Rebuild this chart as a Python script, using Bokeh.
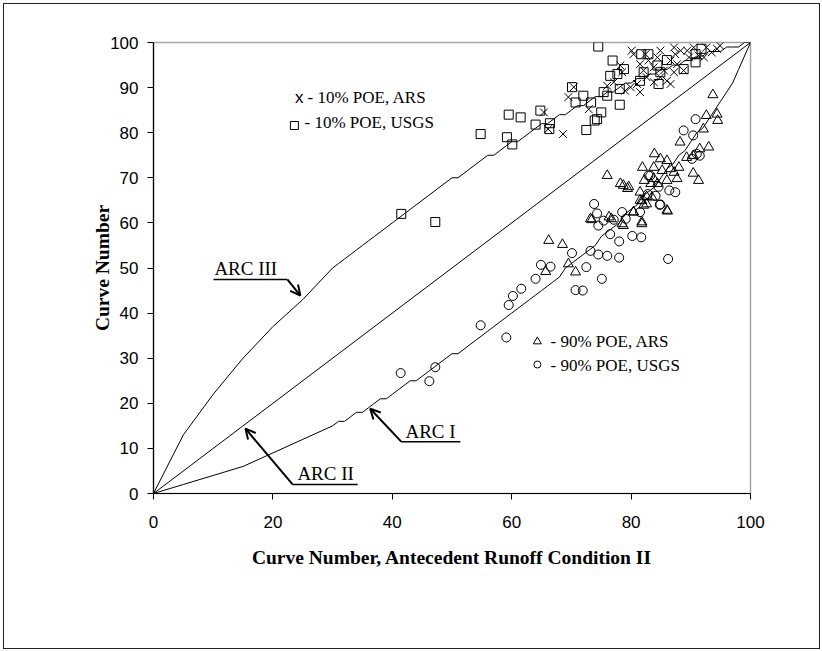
from bokeh.plotting import figure
from bokeh.models import Range1d, Arrow, OpenHead
from bokeh.layouts import column
from bokeh.core.properties import value
from bokeh.embed import file_html
from bokeh.resources import INLINE

# ---- ARC curves (CN II -> CN I / CN III) ----
cn2 = [0, 5, 10, 15, 20, 25, 30, 31, 32, 33, 34, 35, 36, 37, 38, 39, 40, 41, 42, 43, 44, 45,
       46, 47, 48, 49, 50, 51, 52, 53, 54, 55, 56, 57, 58, 59, 60, 61, 62, 63, 64, 65, 66,
       67, 68, 69, 70, 71, 72, 73, 74, 75, 76, 77, 78, 79, 80, 81, 82, 83, 84, 85, 86, 87,
       88, 89, 90, 91, 92, 93, 94, 95, 96, 97, 98, 99, 100]
cn1 = [0, 2, 4, 6, 9, 12, 15, 16, 16, 17, 18, 18, 19, 20, 21, 21, 22, 23, 24, 25, 25, 26,
       27, 28, 29, 30, 31, 31, 32, 33, 34, 35, 36, 37, 38, 39, 40, 41, 42, 43, 44, 45, 46,
       47, 48, 50, 51, 52, 53, 54, 55, 57, 58, 59, 60, 62, 63, 64, 66, 67, 68, 70, 72, 73,
       75, 76, 78, 80, 81, 83, 85, 87, 89, 91, 94, 97, 100]
cn3 = [0, 13, 22, 30, 37, 43, 50, 51, 52, 53, 54, 55, 56, 57, 58, 59, 60, 61, 62, 63, 64, 65,
       66, 67, 68, 69, 70, 70, 71, 72, 73, 74, 75, 75, 76, 77, 78, 78, 79, 80, 81, 82, 82,
       83, 84, 84, 85, 86, 86, 87, 88, 88, 89, 89, 90, 91, 91, 92, 92, 93, 93, 94, 94, 95,
       95, 96, 96, 97, 97, 98, 98, 98, 99, 99, 99, 100, 100]
arc2_x = [0, 100]
arc2_y = [0, 100]

# ---- 10% POE, USGS (squares) ----
usgs10_x = [41.5, 47.2, 54.8, 59.5, 61.5, 59.2, 60.1, 64.0, 64.8, 66.4, 66.3, 70.1, 70.7, 72.0,
            73.3, 72.5, 73.9, 74.3, 75.0, 75.4, 76.5, 76.0, 78.1, 78.1, 77.7, 78.8, 81.5, 81.7,
            82.9, 84.6, 84.9, 86.0, 88.8, 90.8, 90.8, 91.8, 84.4, 82.1, 74.5, 76.9]
usgs10_y = [62.0, 60.2, 79.7, 84.0, 83.4, 79.0, 77.4, 81.8, 84.9, 82.1, 80.8, 90.1, 86.7, 88.2,
            86.7, 80.6, 82.7, 83.0, 84.5, 89.0, 92.6, 88.2, 86.2, 89.7, 93.0, 94.1, 91.5, 97.4,
            97.4, 90.8, 93.4, 96.1, 94.1, 97.4, 95.6, 98.6, 94.9, 93.4, 99.1, 96.0]

# ---- 10% POE, ARS (crosses) ----
ars10_x = [68.6, 66.1, 65.4, 69.5, 70.4, 72.9, 76.0, 77.1, 78.5, 79.0, 79.9, 81.5, 80.4, 81.5,
           82.1, 82.6, 82.9, 83.8, 84.4, 84.9, 85.5, 86.0, 86.6, 87.2, 87.4, 87.2, 87.7, 88.8,
           89.7, 90.5, 91.3, 92.2, 92.6, 93.5, 94.4, 94.9, 88.3, 84.9, 81.0, 78.2, 83.8, 80.1,
           82.4, 86.6, 89.4]
ars10_y = [79.7, 80.8, 84.5, 87.9, 90.1, 85.2, 90.4, 91.2, 93.4, 89.3, 90.1, 89.0, 97.4, 95.2,
           93.8, 92.3, 96.0, 94.5, 96.7, 92.3, 93.8, 91.5, 90.8, 98.9, 97.4, 93.4, 95.2, 93.8,
           96.7, 98.9, 97.1, 96.7, 98.9, 97.8, 98.6, 99.3, 98.2, 98.2, 90.8, 94.9, 91.2, 98.2,
           97.4, 96.0, 98.2]

# ---- 90% POE, ARS (triangles) ----
ars90_x = [93.7, 92.6, 94.4, 94.5, 92.1, 88.2, 93.0, 91.5, 90.4, 89.3, 83.9, 84.9, 86.0, 81.9,
           83.8, 85.2, 86.6, 87.2, 88.0, 76.0, 78.2, 78.7, 79.6, 82.2, 83.3, 84.4, 86.0, 87.7,
           90.4, 91.3, 81.5, 82.6, 81.5, 82.1, 80.4, 81.8, 78.5, 76.3, 73.2, 86.0, 66.2, 68.5,
           83.8, 69.5, 70.7, 65.7, 73.4, 76.7, 78.7, 80.4, 81.8, 81.8, 86.1, 82.6, 83.5, 79.4]
ars90_y = [88.4, 83.8, 84.1, 82.7, 80.8, 77.9, 76.8, 76.4, 74.9, 74.5, 75.3, 74.2, 73.8, 72.3,
           72.3, 71.6, 72.0, 71.2, 72.3, 70.5, 68.7, 68.3, 68.0, 69.4, 68.7, 68.7, 69.4, 69.8,
           71.0, 69.4, 66.8, 65.8, 65.0, 63.9, 62.4, 60.2, 59.8, 61.3, 60.9, 62.8, 56.1, 55.2,
           69.8, 50.9, 49.1, 49.2, 60.7, 60.9, 59.4, 62.4, 59.8, 64.9, 62.6, 64.2, 65.7, 67.6]

# ---- 90% POE, USGS (circles) ----
usgs90_x = [41.4, 46.2, 47.2, 54.8, 59.1, 59.5, 60.2, 61.6, 64.0, 64.9, 66.5, 70.1, 70.7, 71.9,
            72.5, 73.2, 74.5, 76.0, 78.0, 75.1, 76.5, 78.0, 80.2, 81.7, 73.8, 74.3, 74.5, 75.4,
            77.1, 78.5, 79.1, 81.5, 84.8, 86.2, 82.8, 86.4, 83.2, 90.8, 88.8, 90.4, 91.0, 91.5,
            90.2, 82.9, 84.6, 87.4, 84.1, 84.9]
usgs90_y = [26.7, 24.9, 28.0, 37.3, 34.6, 41.8, 43.8, 45.4, 47.6, 50.7, 50.3, 53.3, 45.1, 45.0,
            50.2, 53.8, 53.0, 52.7, 52.3, 47.6, 57.5, 55.9, 57.1, 56.8, 64.2, 62.1, 59.4, 60.5,
            60.7, 62.4, 60.9, 62.4, 64.0, 52.0, 66.4, 67.2, 70.5, 83.0, 80.5, 79.4, 75.3, 74.9,
            74.2, 70.5, 68.0, 66.8, 66.0, 64.1]

x_ticks = [0, 20, 40, 60, 80, 100]
y_ticks = [0, 10, 20, 30, 40, 50, 60, 70, 80, 90, 100]

SERIF = "Liberation Serif"
SANS = "Liberation Sans"

p = figure(width=815, height=644, x_range=Range1d(0, 100), y_range=Range1d(0, 100),
           output_backend="svg", toolbar_location=None,
           min_border_left=149, min_border_right=69, min_border_top=38, min_border_bottom=155)
p.grid.visible = False
p.background_fill_color = "white"
p.border_fill_color = "white"
p.outline_line_color = "#a6a6a6"
p.outline_line_width = 1.5

for ax in (p.xaxis, p.yaxis):
    ax.axis_line_color = "black"
    ax.axis_line_width = 1.2
    ax.major_tick_in = 0
    ax.major_tick_out = 6
    ax.major_tick_line_color = "black"
    ax.minor_tick_line_color = None
    ax.major_label_text_font = SANS
    ax.major_label_text_font_size = "17px"
    ax.major_label_text_color = "black"
    ax.axis_label_text_font = SERIF
    ax.axis_label_text_font_size = "19.5px"
    ax.axis_label_text_font_style = "bold"
    ax.axis_label_text_color = "black"

p.xaxis.ticker = x_ticks
p.yaxis.ticker = y_ticks
p.xaxis.axis_label = "Curve Number, Antecedent Runoff Condition II"
p.yaxis.axis_label = "Curve Number"
p.xaxis.major_label_standoff = 16
p.yaxis.major_label_standoff = 9
p.xaxis.axis_label_standoff = 16
p.yaxis.axis_label_standoff = -6

# curves
p.line(cn2, cn3, line_color="black", line_width=1)
p.line(cn2, cn1, line_color="black", line_width=1)
p.line(arc2_x, arc2_y, line_color="black", line_width=1)

# scatter
p.scatter(usgs10_x, usgs10_y, marker="square", size=9, fill_color=None, line_color="black", line_width=1)
p.scatter(ars10_x, ars10_y, marker="x", size=11, line_color="black", line_width=1)
p.scatter(ars90_x, ars90_y, marker="triangle", size=10, fill_color=None, line_color="black", line_width=1)
p.scatter(usgs90_x, usgs90_y, marker="circle", size=9, fill_color=None, line_color="black", line_width=1)

# ARC annotations
def arc_label(txt, tx, ty, ux0, ux1, uy, ax0, ay0, ax1, ay1):
    p.text(x=[tx], y=[ty], text=[txt], text_font=value(SERIF), text_font_size="19px",
           text_align="left", text_baseline="middle", text_color="black")
    p.segment(x0=[ux0], y0=[uy], x1=[ux1], y1=[uy], line_color="black", line_width=1.5)
    p.add_layout(Arrow(end=OpenHead(size=10, line_width=2, line_color="black"),
                       x_start=ax0, y_start=ay0, x_end=ax1, y_end=ay1,
                       line_width=2, line_color="black"))

arc_label("ARC III", 10.2, 49.8, 10.05, 22.45, 47.45, 22.45, 47.45, 24.6, 43.9)
arc_label("ARC II", 24.1, 4.4, 23.3, 34.2, 2.0, 23.3, 2.0, 15.4, 14.4)
arc_label("ARC I", 42.2, 13.7, 41.5, 51.4, 11.5, 41.5, 11.5, 36.3, 18.8)

# legends
p.text(x=[24.4], y=[87.8], text=["x"], text_font=value(SANS), text_font_size="17px",
       text_align="center", text_baseline="middle", text_color="black")
p.text(x=[25.8], y=[87.8], text=["- 10% POE, ARS"], text_font=value(SERIF), text_font_size="17px",
       text_align="left", text_baseline="middle", text_color="black")
p.scatter([23.6], [81.6], marker="square", size=8, fill_color=None, line_color="black")
p.text(x=[25.3], y=[82.2], text=["- 10% POE, USGS"], text_font=value(SERIF), text_font_size="17px",
       text_align="left", text_baseline="middle", text_color="black")

p.scatter([64.3], [33.7], marker="triangle", size=8, fill_color=None, line_color="black")
p.text(x=[66.5], y=[33.6], text=["- 90% POE, ARS"], text_font=value(SERIF), text_font_size="17px",
       text_align="left", text_baseline="middle", text_color="black")
p.scatter([64.3], [28.6], marker="circle", size=7, fill_color=None, line_color="black")
p.text(x=[66.5], y=[28.4], text=["- 90% POE, USGS"], text_font=value(SERIF), text_font_size="17px",
       text_align="left", text_baseline="middle", text_color="black")

layout = column(p, styles={"border": "1px solid #222222", "margin-left": "3px", "margin-top": "3px"})

open("out.html", "w").write(file_html(layout, INLINE))
